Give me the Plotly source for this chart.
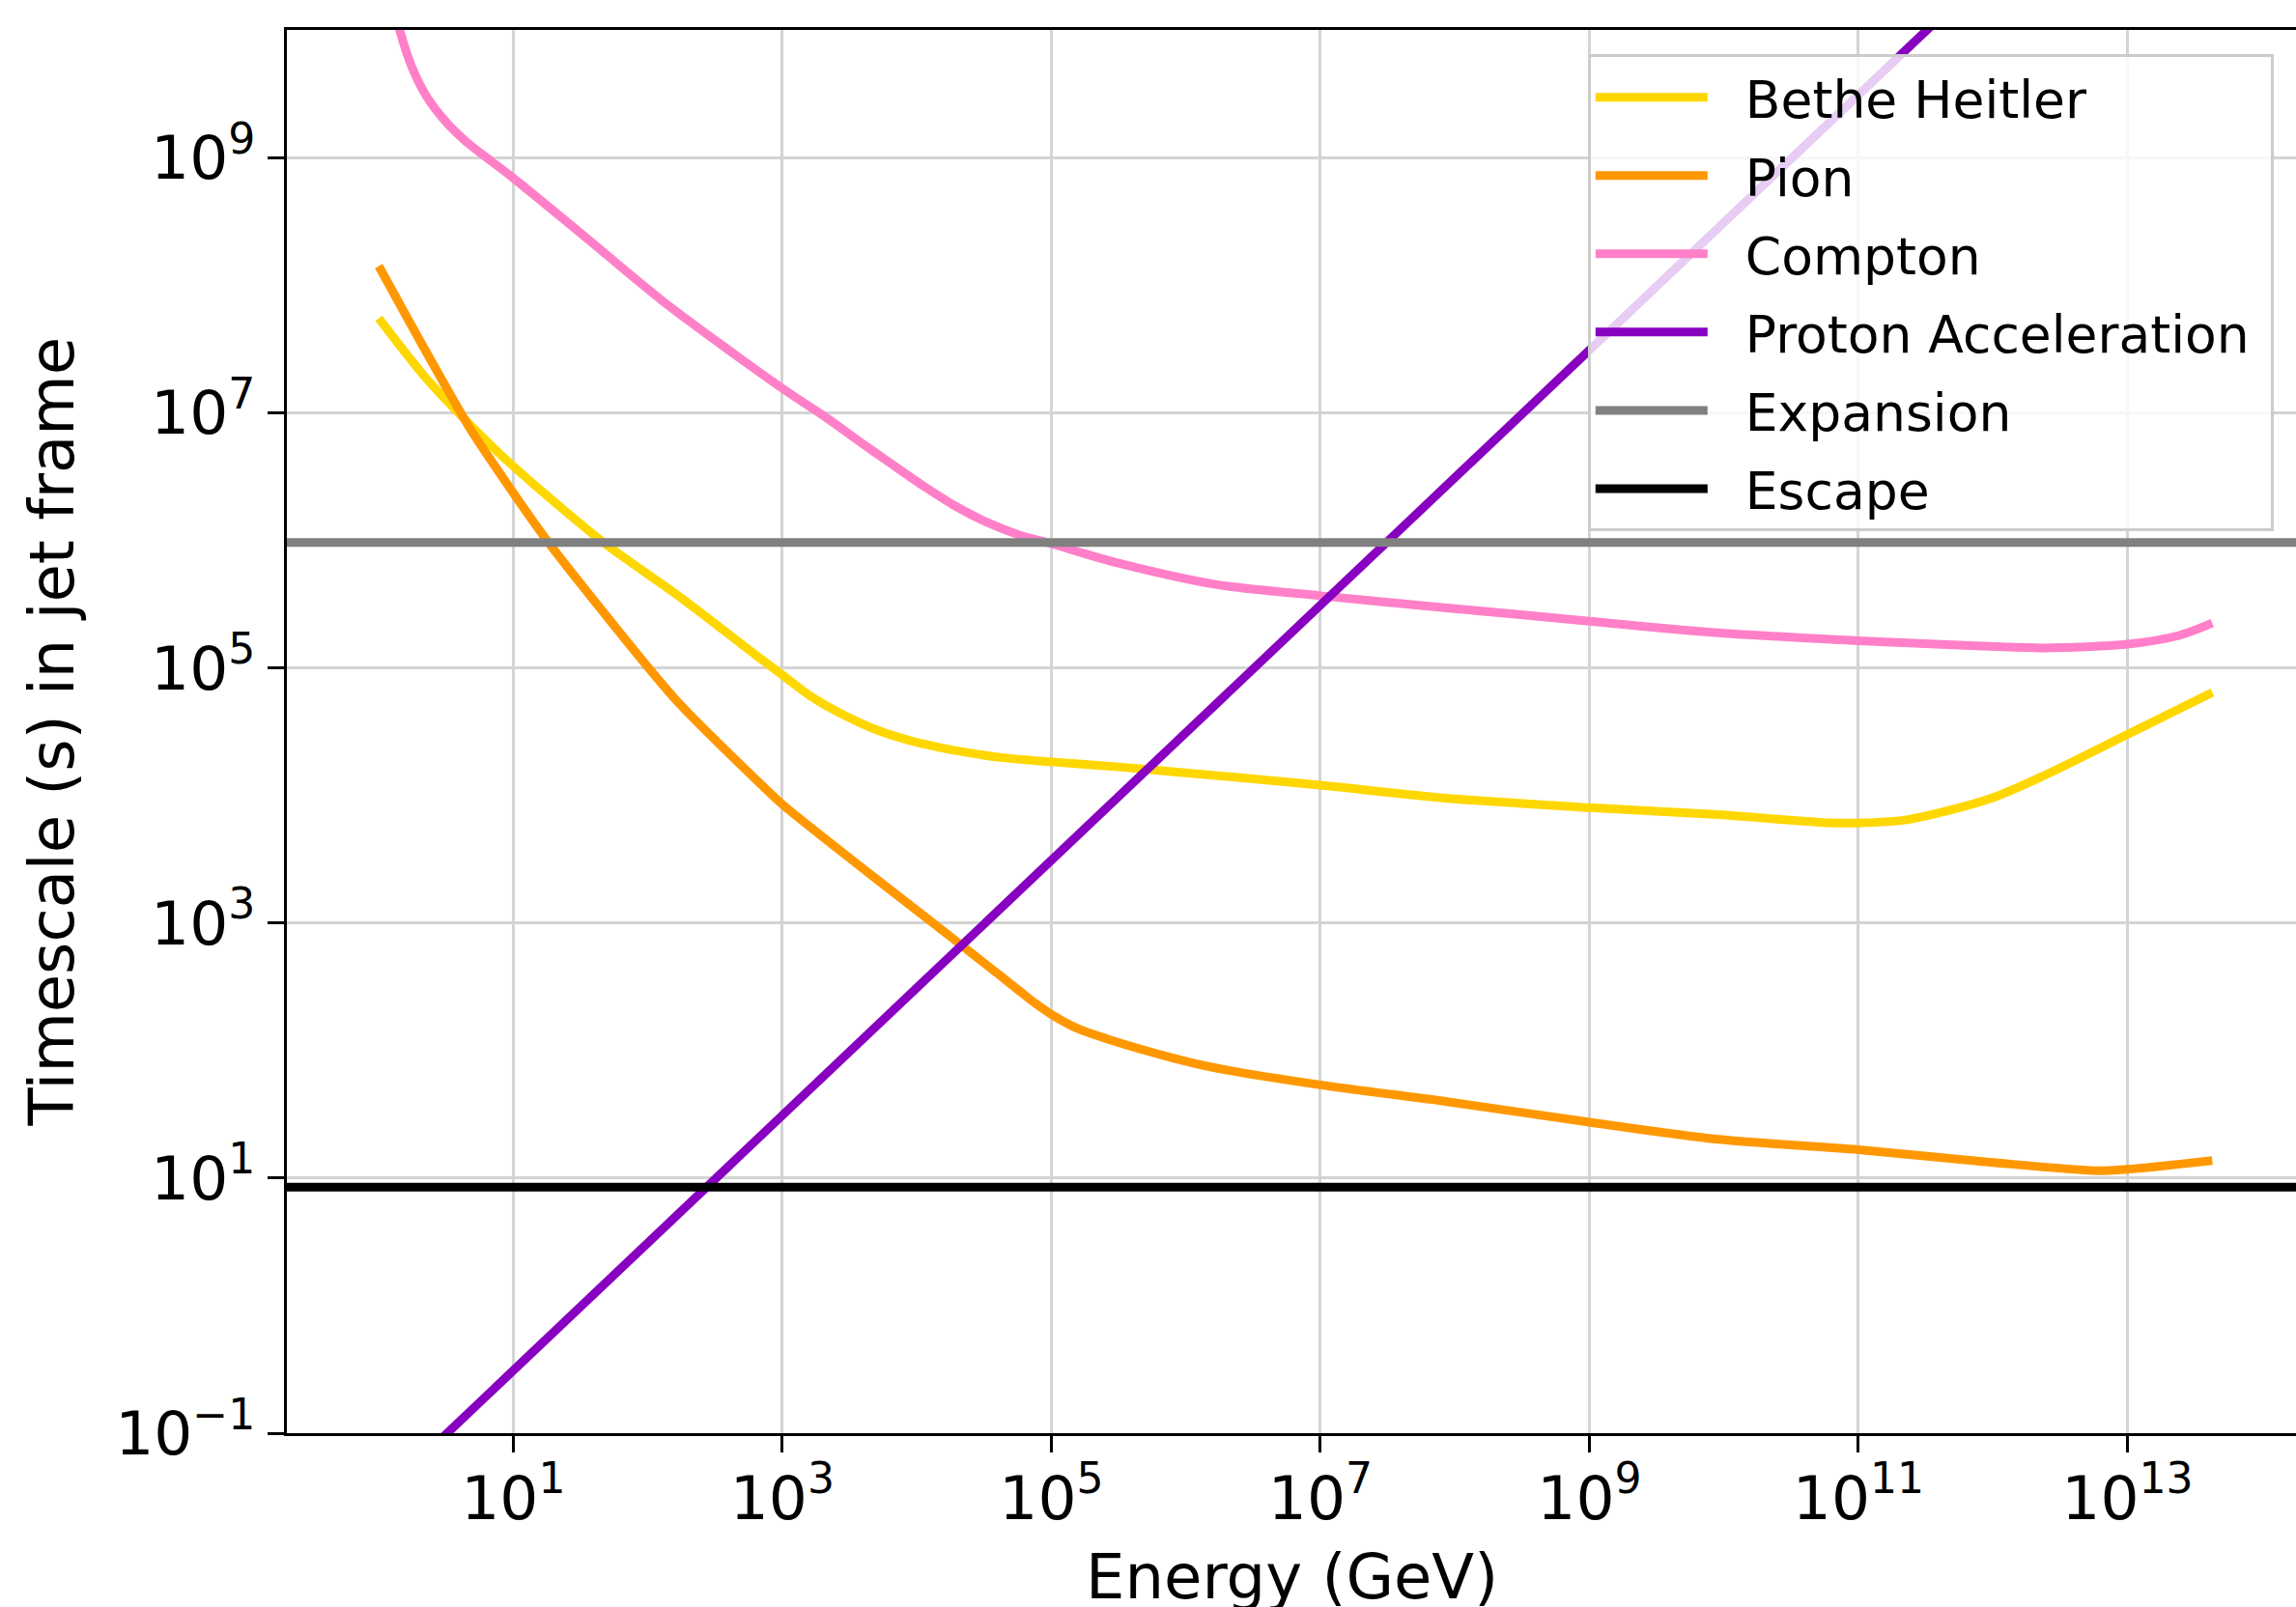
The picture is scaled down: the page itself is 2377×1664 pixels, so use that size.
import plotly.graph_objects as go

# ---------------- data ----------------
bh_energy = [1.0, 2.25, 4.74, 10, 47.4, 162, 711, 1e3, 1.62e3, 2.81e3, 4.86e3, 8.4e3, 1.46e4,
             2.53e4, 4.4e4, 1e5, 3.16e5, 7.2e5, 1e7, 8.5e7, 1e9, 9.1e9, 5.9e10, 1e11, 2.34e11,
             9.5e11, 2.4e12, 1e13, 4.27e13]
bh_time = [5.5e7, 1.86e7, 8.1e6, 3.8e6, 9.5e5, 3.78e5, 1.15e5, 8.8e4, 6.0e4, 4.3e4, 3.3e4,
           2.73e4, 2.38e4, 2.14e4, 1.97e4, 1.83e4, 1.67e4, 1.55e4, 1.2e4, 9.5e3, 8.0e3,
           7.05e3, 6.1e3, 6.07e3, 6.46e3, 9.4e3, 1.43e4, 3.0e4, 6.4e4]

pion_energy = [1.0, 2.25, 4.74, 10, 18.4, 38.7, 162, 711, 1e3, 3.7e3, 1.11e4, 3.34e4, 5.77e4,
               7.6e4, 1e5, 1.58e5, 2.8e5, 7.8e5, 1.66e6, 1e7, 8.7e7, 1e9, 9.1e9, 1e11, 9.5e11,
               6.0e12, 1e13, 4.27e13]
pion_time = [1.41e8, 3.0e7, 7.6e6, 2.35e6, 9.5e5, 3.5e5, 5.6e4, 1.19e4, 8.5e3, 2.83e3, 1.15e3,
             464, 294, 234, 192, 148, 120, 88, 73, 53.7, 39.7, 27.4, 20.1, 16.7, 13.3, 11.4,
             11.7, 13.7]

compton_energy = [1.0, 1.2, 1.45, 1.78, 2.25, 3.16, 4.44, 10, 34, 131, 1e3, 2.14e3, 3.7e3,
                  6.4e3, 1.1e4, 1.92e4, 3.33e4, 5.77e4, 1e5, 1.73e5, 3.16e5, 1.66e6, 1e7,
                  8.7e7, 1e9, 9.1e9, 1e11, 9.5e11, 2.4e12, 1e13, 2.45e13, 4.27e13]
compton_time = [6.3e10, 2.2e10, 9.5e9, 5.0e9, 3.05e9, 1.9e9, 1.34e9, 6.9e8, 2.4e8, 7.4e7,
                1.55e7, 9.1e6, 6.0e6, 4.0e6, 2.7e6, 1.86e6, 1.38e6, 1.10e6, 9.4e5, 7.9e5,
                6.6e5, 4.5e5, 3.67e5, 2.95e5, 2.32e5, 1.88e5, 1.63e5, 1.47e5, 1.43e5, 1.53e5,
                1.80e5, 2.24e5]

accel_energy = [1.0, 1e2, 1e4, 1e6, 1e8, 1e10, 1e12, 4.27e13]
accel_time = [0.031, 3.1, 310, 3.1e4, 3.1e6, 3.1e8, 3.1e10, 1.32e12]

expansion_time = 9.6e5
escape_time = 8.5

x_log_range = [-0.683, 14.253]
y_log_range = [-1, 10]

x_tick_vals = [1e1, 1e3, 1e5, 1e7, 1e9, 1e11, 1e13]
x_tick_text = ["10<sup>1</sup>", "10<sup>3</sup>", "10<sup>5</sup>", "10<sup>7</sup>",
               "10<sup>9</sup>", "10<sup>11</sup>", "10<sup>13</sup>"]
y_tick_vals = [1e-1, 1e1, 1e3, 1e5, 1e7, 1e9]
y_tick_text = ["10<sup>−1</sup>", "10<sup>1</sup>", "10<sup>3</sup>", "10<sup>5</sup>",
               "10<sup>7</sup>", "10<sup>9</sup>"]

names = ["Bethe Heitler", "Pion", "Compton", "Proton Acceleration", "Expansion", "Escape"]
colors = ["#FFD700", "#FF9800", "#FF80C8", "#8800C0", "#808080", "#000000"]

# ---------------- figure ----------------
FONT = "DejaVu Sans"
LW = 9
PAD = "\u00a0\u00a0"


def label(n):
    return PAD + n + "\u00a0"


fig = go.Figure()

curves = [(bh_energy, bh_time), (pion_energy, pion_time), (compton_energy, compton_time)]
for i, (xe, yt) in enumerate(curves):
    fig.add_trace(go.Scatter(x=xe, y=yt, mode="lines", name=label(names[i]), legendgroup=names[i],
                             line=dict(color=colors[i], width=LW, shape="spline", smoothing=0.8)))

fig.add_trace(go.Scatter(x=accel_energy, y=accel_time, mode="lines", name=label(names[3]),
                         legendgroup=names[3], line=dict(color=colors[3], width=LW)))

x_span = [10 ** (x_log_range[0] - 1), 10 ** (x_log_range[1] + 1)]
fig.add_trace(go.Scatter(x=x_span, y=[expansion_time] * 2, mode="lines", name=label(names[4]),
                         legendgroup=names[4], line=dict(color=colors[4], width=LW)))
fig.add_trace(go.Scatter(x=x_span, y=[escape_time] * 2, mode="lines", name=label(names[5]),
                         legendgroup=names[5], line=dict(color=colors[5], width=LW)))

axis_common = dict(
    type="log", showline=True, linecolor="black", linewidth=3.2,
    ticks="outside", ticklen=17, tickwidth=3.2, tickcolor="black",
    showgrid=True, gridcolor="#d4d4d4", gridwidth=3,
    zeroline=False, tickfont=dict(family=FONT, size=63, color="black"),
)

fig.update_layout(
    width=2377, height=1664,
    margin=dict(l=297, r=0, t=31, b=180),
    paper_bgcolor="white", plot_bgcolor="white",
    font=dict(family=FONT, color="black"),
    xaxis=dict(range=x_log_range, tickvals=x_tick_vals, ticktext=x_tick_text,
               mirror=True, ticklabelstandoff=-7, **axis_common),
    yaxis=dict(range=y_log_range, tickvals=y_tick_vals, ticktext=y_tick_text,
               mirror=False, **axis_common),
    legend=dict(x=0.6475, y=0.9825, xanchor="left", yanchor="top",
                bgcolor="rgba(255,255,255,0.8)", bordercolor="#cccccc", borderwidth=3,
                font=dict(family=FONT, size=53.5, color="black"),
                itemwidth=116, tracegroupgap=8.5, traceorder="grouped"),
    showlegend=True,
)

fig.add_annotation(text="Energy (GeV)", xref="paper", yref="paper", x=0.5, y=0,
                   xanchor="center", yanchor="middle", yshift=-149, showarrow=False,
                   font=dict(family=FONT, size=64, color="black"))
fig.add_annotation(text="Timescale (s) in jet frame", xref="paper", yref="paper",
                   x=(53 - 297) / 2080, y=0.5, xanchor="center", yanchor="middle",
                   textangle=-90, showarrow=False,
                   font=dict(family=FONT, size=64, color="black"))

fig.write_html("out.html", config={"displayModeBar": False},
               post_script="document.body.style.margin='0px';document.body.style.overflow='hidden';")
